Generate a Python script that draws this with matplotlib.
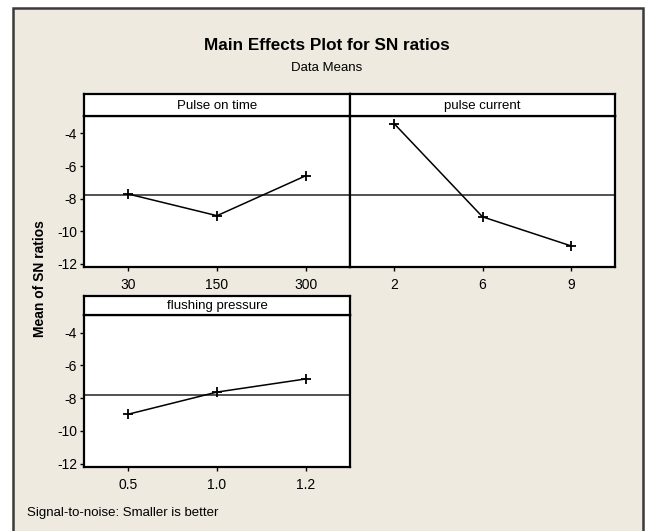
import matplotlib
matplotlib.use("Agg")
import matplotlib.pyplot as plt
from matplotlib.patches import Rectangle
from matplotlib import font_manager

# ---- data ----
factors = ["Pulse on time", "pulse current", "flushing pressure"]
level_labels = [["30", "150", "300"], ["2", "6", "9"], ["0.5", "1.0", "1.2"]]
pulse_on_time_sn = [-7.72, -9.05, -6.60]
pulse_current_sn = [-3.40, -9.12, -10.90]
flushing_pressure_sn = [-8.98, -7.63, -6.83]
series = [pulse_on_time_sn, pulse_current_sn, flushing_pressure_sn]
yticks = [-4, -6, -8, -10, -12]

grand_mean = sum(sum(s) for s in series) / 9.0

# ---- fonts ----
avail = {f.name for f in font_manager.fontManager.ttflist}
fam = ["Liberation Sans Narrow"] if "Liberation Sans Narrow" in avail else ["Liberation Sans"]
plt.rcParams["font.family"] = fam + ["DejaVu Sans"]

W, H = 645, 531
fig = plt.figure(figsize=(W / 100, H / 100), dpi=100)
fig.patch.set_facecolor("white")

BG = "#EEEAE0"
fig.patches.append(Rectangle((13 / W, -0.02), (643 - 13) / W, 1 - 8 / H + 0.02,
                             transform=fig.transFigure, facecolor=BG,
                             edgecolor="#3a3a3a", linewidth=1.8, zorder=-10))


def px_axes(x0, x1, y0, y1):
    return [x0 / W, 1 - y1 / H, (x1 - x0) / W, (y1 - y0) / H]


panels = [
    (84, 350, 94, 116, 267),
    (350, 615, 94, 116, 267),
    (84, 350, 296, 315, 467),
]

YLIM = (-12.2, -2.93)

for i, (x0, x1, hy0, y0, y1) in enumerate(panels):
    ax = fig.add_axes(px_axes(x0, x1, y0, y1))
    ax.set_zorder(1)
    ax.set_facecolor("white")
    ax.axhline(grand_mean, color="#333333", lw=1.2, zorder=1)
    xs = [1, 2, 3]
    ax.plot(xs, series[i], color="black", lw=1.1, marker="+", ms=7, mew=1.3, zorder=3)
    ax.set_xlim(0.5, 3.5)
    ax.set_ylim(*YLIM)
    ax.set_xticks(xs)
    ax.set_xticklabels(level_labels[i], fontsize=10)
    ax.tick_params(axis="x", direction="out", length=3, width=1, pad=5, color="black")
    if i == 1:
        ax.set_yticks([])
    else:
        ax.set_yticks(yticks)
        ax.set_yticklabels([str(t) for t in yticks], fontsize=10)
        ax.tick_params(axis="y", direction="out", length=3, width=1, pad=2)
    for sp in ax.spines.values():
        sp.set_linewidth(1.6)
        sp.set_color("black")
    # header strip
    hax = fig.add_axes(px_axes(x0, x1, hy0, y0))
    hax.set_zorder(1)
    hax.set_facecolor("white")
    hax.set_xticks([])
    hax.set_yticks([])
    for sp in hax.spines.values():
        sp.set_linewidth(1.6)
        sp.set_color("black")
    hax.text(0.5, 0.45, factors[i], ha="center", va="center", fontsize=9.5,
             transform=hax.transAxes)

fig.text(327 / W, 1 - 45 / H, "Main Effects Plot for SN ratios", ha="center",
         va="center", fontsize=12.3, fontweight="bold")
fig.text(327 / W, 1 - 68 / H, "Data Means", ha="center", va="center", fontsize=9.5)
fig.text(40 / W, 1 - 279 / H, "Mean of SN ratios", ha="center", va="center",
         rotation=90, fontsize=10, fontweight="bold")
fig.text(27 / W, 1 - 513 / H, "Signal-to-noise: Smaller is better", ha="left",
         va="center", fontsize=9.5)

fig.savefig("out.png", dpi=100, facecolor=fig.get_facecolor())
